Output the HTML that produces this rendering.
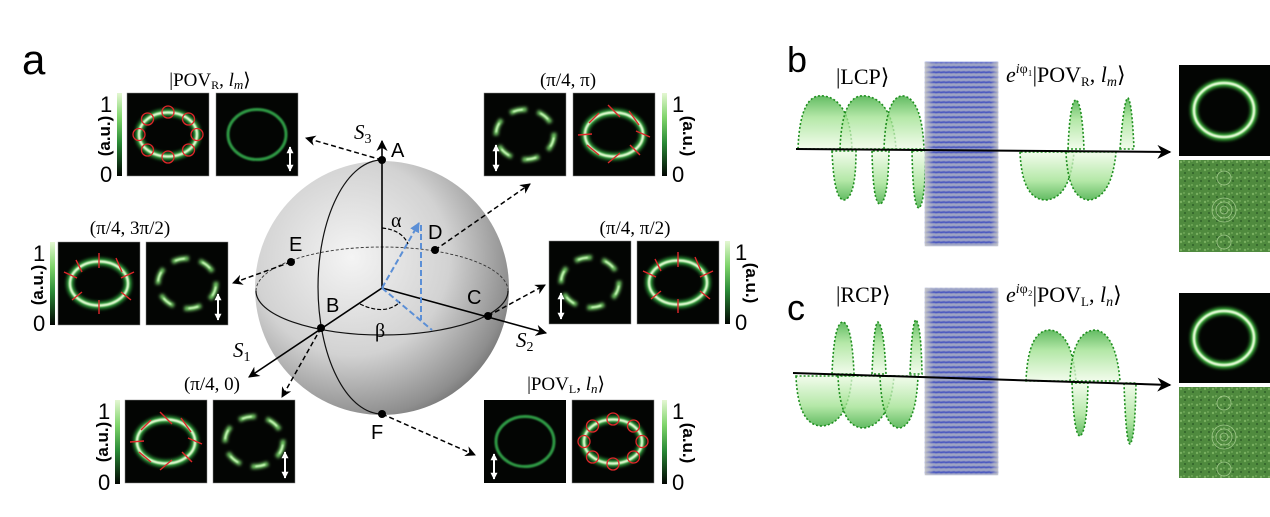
<!DOCTYPE html>
<html><head><meta charset="utf-8">
<style>
html,body{margin:0;padding:0;background:#fff;width:1270px;height:517px;overflow:hidden}
svg{display:block}
.ser{font-family:"Liberation Serif","DejaVu Serif",serif}
.san{font-family:"Liberation Sans","DejaVu Sans",sans-serif}
</style></head><body>
<svg width="1270" height="517" viewBox="0 0 1270 517" xmlns="http://www.w3.org/2000/svg">
<defs>
  <radialGradient id="sph" cx="0.38" cy="0.38" r="0.7">
    <stop offset="0" stop-color="#f4f4f4"/>
    <stop offset="0.55" stop-color="#d2d2d2"/>
    <stop offset="0.9" stop-color="#8e8e8e"/>
    <stop offset="1" stop-color="#6e6e6e"/>
  </radialGradient>
  <linearGradient id="cb" x1="0" y1="0" x2="0" y2="1">
    <stop offset="0" stop-color="#e4f7d2"/>
    <stop offset="0.3" stop-color="#7ed46a"/>
    <stop offset="0.6" stop-color="#2a8a36"/>
    <stop offset="1" stop-color="#020502"/>
  </linearGradient>
  <linearGradient id="lobeU" x1="0" y1="1" x2="0" y2="0">
    <stop offset="0" stop-color="#eefbe6"/>
    <stop offset="0.6" stop-color="#9be08a"/>
    <stop offset="1" stop-color="#2fa52f"/>
  </linearGradient>
  <linearGradient id="lobeD" x1="0" y1="0" x2="0" y2="1">
    <stop offset="0" stop-color="#eefbe6"/>
    <stop offset="0.6" stop-color="#9be08a"/>
    <stop offset="1" stop-color="#2fa52f"/>
  </linearGradient>
  <pattern id="grid" width="5" height="5" patternUnits="userSpaceOnUse">
    <rect width="5" height="5" fill="#9ea4c4"/>
    <line x1="0" y1="2.5" x2="5" y2="2" stroke="#2c3fbf" stroke-width="1.8"/>
  </pattern>
  <linearGradient id="plateEdge" x1="0" y1="0" x2="1" y2="0">
    <stop offset="0" stop-color="#c8c8c8" stop-opacity="0.9"/>
    <stop offset="0.12" stop-color="#c8c8c8" stop-opacity="0"/>
    <stop offset="0.9" stop-color="#c8c8c8" stop-opacity="0"/>
    <stop offset="1" stop-color="#c8c8c8" stop-opacity="0.8"/>
  </linearGradient>
  <pattern id="noise" width="8" height="8" patternUnits="userSpaceOnUse">
    <rect width="8" height="8" fill="#4f8a3e"/>
    <circle cx="2" cy="2" r="1.2" fill="#79b060"/>
    <circle cx="6" cy="5" r="1" fill="#2f5f28"/>
    <circle cx="5" cy="1" r="0.7" fill="#8cc070"/>
  </pattern>
  <filter id="bl" x="-20%" y="-20%" width="140%" height="140%"><feGaussianBlur stdDeviation="1.6"/></filter>
  <filter id="bl2" x="-20%" y="-20%" width="140%" height="140%"><feGaussianBlur stdDeviation="0.8"/></filter>
  <filter id="bl3"><feGaussianBlur stdDeviation="0.5"/></filter>
  <marker id="ah" viewBox="0 0 10 10" refX="9" refY="5" markerWidth="7" markerHeight="7" orient="auto">
    <path d="M0,0 L10,5 L0,10 L3,5 Z" fill="#000"/>
  </marker>
  <marker id="ahw" viewBox="0 0 10 10" refX="9" refY="5" markerWidth="3.5" markerHeight="3.5" orient="auto-start-reverse">
    <path d="M0,0 L10,5 L0,10 Z" fill="#fff"/>
  </marker>
  <marker id="ahb" viewBox="0 0 10 10" refX="9" refY="5" markerWidth="5" markerHeight="5" orient="auto">
    <path d="M0,0 L10,5 L0,10 Z" fill="#5b8fd6"/>
  </marker>

  <g id="ringBright">
    <rect width="82" height="83" fill="#030503" stroke="#888" stroke-width="0.5"/>
    <ellipse cx="41" cy="41.5" rx="29" ry="22" fill="none" stroke="#2fa03a" stroke-width="7" filter="url(#bl)"/>
    <ellipse cx="41" cy="41.5" rx="29" ry="22" fill="none" stroke="#eaffd8" stroke-width="2.5" filter="url(#bl2)"/>
  </g>
  <g id="ringDim">
    <rect width="82" height="83" fill="#030503" stroke="#888" stroke-width="0.5"/>
    <ellipse cx="41" cy="41.5" rx="29" ry="25" fill="none" stroke="#2e9a44" stroke-width="3" filter="url(#bl2)"/>
    <line x1="74" y1="54" x2="74" y2="78" stroke="#fff" stroke-width="2" marker-start="url(#ahw)" marker-end="url(#ahw)"/>
  </g>
  <g id="ringLobe">
    <rect width="82" height="83" fill="#030503" stroke="#888" stroke-width="0.5"/>
    <ellipse cx="41" cy="41.5" rx="29" ry="25" fill="none" stroke="#7fe070" stroke-width="4.5" stroke-dasharray="17 11" filter="url(#bl)"/>
    <ellipse cx="41" cy="41.5" rx="29" ry="25" fill="none" stroke="#d9ffc8" stroke-width="1.6" stroke-dasharray="10 18" stroke-dashoffset="-3" filter="url(#bl2)"/>
    <line x1="12" y1="52" x2="12" y2="78" stroke="#fff" stroke-width="2" marker-start="url(#ahw)" marker-end="url(#ahw)"/>
  </g>
  <g id="ringLobeR">
    <rect width="82" height="83" fill="#030503" stroke="#888" stroke-width="0.5"/>
    <ellipse cx="41" cy="41.5" rx="29" ry="25" fill="none" stroke="#7fe070" stroke-width="4.5" stroke-dasharray="17 11" filter="url(#bl)"/>
    <ellipse cx="41" cy="41.5" rx="29" ry="25" fill="none" stroke="#d9ffc8" stroke-width="1.6" stroke-dasharray="10 18" stroke-dashoffset="-3" filter="url(#bl2)"/>
    <line x1="72" y1="52" x2="72" y2="78" stroke="#fff" stroke-width="2" marker-start="url(#ahw)" marker-end="url(#ahw)"/>
  </g>
  <g id="redC" fill="none" stroke="#e0262a" stroke-width="1.3">
    <circle cx="41" cy="19" r="6"/><circle cx="61.5" cy="26" r="6"/><circle cx="70" cy="41.5" r="6"/>
    <circle cx="61.5" cy="57" r="6"/><circle cx="41" cy="64" r="6"/><circle cx="20.5" cy="57" r="6"/>
    <circle cx="12" cy="41.5" r="6"/><circle cx="20.5" cy="26" r="6"/>
  </g>
  <g id="redT" stroke="#e0262a" stroke-width="1.4">
    <line x1="35" y1="12" x2="47" y2="24"/><line x1="56" y1="18" x2="66" y2="32"/><line x1="63" y1="38" x2="77" y2="44"/>
    <line x1="57" y1="52" x2="67" y2="62"/><line x1="35" y1="70" x2="47" y2="60"/><line x1="14" y1="52" x2="26" y2="62"/>
    <line x1="5" y1="42" x2="19" y2="41"/><line x1="16" y1="30" x2="26" y2="20"/>
  </g>
  <g id="redT2" stroke="#e0262a" stroke-width="1.4">
    <line x1="41" y1="11" x2="41" y2="26"/><line x1="58" y1="16" x2="64" y2="30"/><line x1="63" y1="36" x2="76" y2="30"/>
    <line x1="63" y1="50" x2="73" y2="58"/><line x1="41" y1="58" x2="41" y2="72"/><line x1="14" y1="58" x2="24" y2="50"/>
    <line x1="6" y1="30" x2="19" y2="36"/><line x1="18" y1="18" x2="24" y2="30"/>
  </g>
</defs>

<rect width="1270" height="517" fill="#fff"/>

<!-- ============ PANEL A ============ -->
<text x="22" y="74" class="san" font-size="42">a</text>

<circle cx="382" cy="288" r="127" fill="url(#sph)"/>
<path d="M256,291 A126,44 0 0 1 508,291" fill="none" stroke="#333" stroke-width="0.9" stroke-dasharray="3 2"/>
<path d="M256,291 A126,44 0 0 0 508,291" fill="none" stroke="#111" stroke-width="1.2"/>
<path d="M382,160 A64,127 0 0 0 382,414" fill="none" stroke="#111" stroke-width="1.2"/>
<line x1="382" y1="288" x2="382" y2="141" stroke="#000" stroke-width="1.6" marker-end="url(#ah)"/>
<line x1="382" y1="288" x2="249" y2="377" stroke="#000" stroke-width="1.6" marker-end="url(#ah)"/>
<line x1="382" y1="288" x2="546" y2="333" stroke="#000" stroke-width="1.6" marker-end="url(#ah)"/>
<line x1="382" y1="288" x2="419" y2="223" stroke="#5b8fd6" stroke-width="2" stroke-dasharray="6 3" marker-end="url(#ahb)"/>
<line x1="421" y1="225" x2="421" y2="320" stroke="#5b8fd6" stroke-width="2" stroke-dasharray="6 3"/>
<line x1="382" y1="288" x2="432" y2="330" stroke="#5b8fd6" stroke-width="2" stroke-dasharray="6 3"/>
<path d="M382,228 Q402,230 408,244" fill="none" stroke="#000" stroke-width="1.2" stroke-dasharray="4 2"/>
<path d="M360,304 Q385,316 400,302" fill="none" stroke="#000" stroke-width="1.2" stroke-dasharray="4 2"/>
<text x="391" y="227" class="ser" font-size="20">α</text>
<text x="375" y="337" class="ser" font-size="20">β</text>
<g fill="#000">
<circle cx="382" cy="160" r="4"/><circle cx="382" cy="414" r="4"/><circle cx="321" cy="328" r="4"/>
<circle cx="488" cy="316" r="4"/><circle cx="435" cy="250" r="4"/><circle cx="291" cy="262" r="4"/>
</g>
<g class="san" font-size="20">
<text x="391" y="157">A</text><text x="371" y="439">F</text><text x="326" y="312">B</text>
<text x="467" y="304">C</text><text x="428" y="239">D</text><text x="289" y="251">E</text>
</g>
<text x="354" y="139" class="ser" font-style="italic" font-size="21">S<tspan font-size="14" dy="4" font-style="normal">3</tspan></text>
<text x="233" y="357" class="ser" font-style="italic" font-size="21">S<tspan font-size="14" dy="4" font-style="normal">1</tspan></text>
<text x="516" y="347" class="ser" font-style="italic" font-size="21">S<tspan font-size="14" dy="4" font-style="normal">2</tspan></text>

<g stroke="#000" stroke-width="1.5" stroke-dasharray="5 3" fill="none">
<line x1="382" y1="160" x2="306" y2="138" marker-end="url(#ah)"/>
<line x1="435" y1="250" x2="530" y2="184" marker-end="url(#ah)"/>
<line x1="291" y1="262" x2="233" y2="283" marker-end="url(#ah)"/>
<line x1="488" y1="316" x2="545" y2="285" marker-end="url(#ah)"/>
<line x1="321" y1="328" x2="282" y2="397" marker-end="url(#ah)"/>
<line x1="382" y1="414" x2="475" y2="455" marker-end="url(#ah)"/>
</g>

<text x="210" y="86" class="ser" font-size="19" text-anchor="middle">|POV<tspan font-size="12" dy="3">R</tspan><tspan dy="-3">, </tspan><tspan font-style="italic">l</tspan><tspan font-style="italic" font-size="13" dy="3">m</tspan><tspan dy="-3">⟩</tspan></text>
<rect x="117" y="93" width="5" height="83" fill="url(#cb)"/>
<text x="100" y="112" class="san" font-size="22">1</text>
<text x="100" y="182" class="san" font-size="22">0</text>
<text transform="translate(110,136) rotate(-90)" class="san" font-size="17" font-weight="bold" text-anchor="middle">(a.u.)</text>
<use href="#ringBright" x="127" y="93"/><use href="#redC" x="127" y="93"/>
<use href="#ringDim" x="216" y="93"/>

<text x="130" y="234" class="ser" font-size="19" text-anchor="middle">(π/4, 3π/2)</text>
<rect x="50" y="242" width="5" height="83" fill="url(#cb)"/>
<text x="33" y="261" class="san" font-size="22">1</text>
<text x="33" y="331" class="san" font-size="22">0</text>
<text transform="translate(43,285) rotate(-90)" class="san" font-size="17" font-weight="bold" text-anchor="middle">(a.u.)</text>
<use href="#ringBright" x="58" y="242"/><use href="#redT2" x="58" y="242"/>
<use href="#ringLobeR" x="146" y="242"/>

<text x="212" y="390" class="ser" font-size="19" text-anchor="middle">(π/4, 0)</text>
<rect x="115" y="400" width="5" height="84" fill="url(#cb)"/>
<text x="98" y="419" class="san" font-size="22">1</text>
<text x="98" y="490" class="san" font-size="22">0</text>
<text transform="translate(108,442) rotate(-90)" class="san" font-size="17" font-weight="bold" text-anchor="middle">(a.u.)</text>
<use href="#ringBright" x="125" y="400"/><use href="#redT" x="125" y="400"/>
<use href="#ringLobeR" x="213" y="400"/>

<text x="568" y="86" class="ser" font-size="19" text-anchor="middle">(π/4, π)</text>
<use href="#ringLobe" x="484" y="93"/>
<use href="#ringBright" x="573" y="93"/><use href="#redT" x="573" y="93"/>
<rect x="662" y="93" width="5" height="83" fill="url(#cb)"/>
<text x="672" y="112" class="san" font-size="22">1</text>
<text x="672" y="182" class="san" font-size="22">0</text>
<text transform="translate(683,136) rotate(90)" class="san" font-size="17" font-weight="bold" text-anchor="middle">(a.u.)</text>

<text x="635" y="234" class="ser" font-size="19" text-anchor="middle">(π/4, π/2)</text>
<use href="#ringLobe" x="549" y="241"/>
<use href="#ringBright" x="637" y="241"/><use href="#redT2" x="637" y="241"/>
<rect x="725" y="241" width="5" height="83" fill="url(#cb)"/>
<text x="735" y="260" class="san" font-size="22">1</text>
<text x="735" y="330" class="san" font-size="22">0</text>
<text transform="translate(746,283) rotate(90)" class="san" font-size="17" font-weight="bold" text-anchor="middle">(a.u.)</text>

<text x="566" y="390" class="ser" font-size="19" text-anchor="middle">|POV<tspan font-size="12" dy="3">L</tspan><tspan dy="-3">, </tspan><tspan font-style="italic">l</tspan><tspan font-style="italic" font-size="13" dy="3">n</tspan><tspan dy="-3">⟩</tspan></text>
<g transform="translate(484,400)"><rect width="82" height="83" fill="#030503"/><ellipse cx="41" cy="41.5" rx="29" ry="25" fill="none" stroke="#2e9a44" stroke-width="3" filter="url(#bl2)"/><line x1="10" y1="54" x2="10" y2="79" stroke="#fff" stroke-width="2" marker-start="url(#ahw)" marker-end="url(#ahw)"/></g>
<use href="#ringBright" x="572" y="400"/><use href="#redC" x="572" y="400"/>
<rect x="662" y="400" width="5" height="84" fill="url(#cb)"/>
<text x="672" y="419" class="san" font-size="22">1</text>
<text x="672" y="490" class="san" font-size="22">0</text>
<text transform="translate(683,443) rotate(90)" class="san" font-size="17" font-weight="bold" text-anchor="middle">(a.u.)</text>

<!-- ============ PANEL B ============ -->
<text x="787" y="72" class="san" font-size="36">b</text>
<text x="836" y="84" class="ser" font-size="22">|LCP⟩</text>
<text x="1006" y="82" class="ser" font-size="22"><tspan font-style="italic">e</tspan><tspan font-size="14" dy="-9"><tspan font-style="italic">i</tspan>φ₁</tspan><tspan dy="9">|POV</tspan><tspan font-size="13" dy="4">R</tspan><tspan dy="-4">, </tspan><tspan font-style="italic">l</tspan><tspan font-style="italic" font-size="14" dy="4">m</tspan><tspan dy="-4">⟩</tspan></text>

<g stroke="#1f8f1f" stroke-width="1.6" stroke-dasharray="2 2" fill-opacity="0.75">
<path d="M798,149 Q800,92 824,96 Q850,100 852,149 Z" fill="url(#lobeU)"/>
<path d="M840,149 Q842,92 866,96 Q893,100 896,149 Z" fill="url(#lobeU)"/>
<path d="M884,149 Q886,94 904,96 Q922,100 924,149 Z" fill="url(#lobeU)"/>
<path d="M832,151 Q834,200 844,200 Q856,198 856,151 Z" fill="url(#lobeD)"/>
<path d="M872,151 Q873,204 880,204 Q888,202 889,151 Z" fill="url(#lobeD)"/>
<path d="M912,151 Q913,208 919,208 Q925,204 926,151 Z" fill="url(#lobeD)"/>
</g>
<rect x="925" y="62" width="73" height="184" fill="url(#grid)" filter="url(#bl3)"/>
<rect x="925" y="62" width="73" height="184" fill="url(#plateEdge)"/>
<g stroke="#1f8f1f" stroke-width="1.6" stroke-dasharray="2 2" fill-opacity="0.75">
<path d="M1020,152 Q1022,200 1046,200 Q1070,198 1074,152 Z" fill="url(#lobeD)"/>
<path d="M1066,152 Q1068,200 1090,200 Q1112,196 1116,152 Z" fill="url(#lobeD)"/>
<path d="M1068,149 Q1070,100 1076,100 Q1082,102 1084,149 Z" fill="url(#lobeU)"/>
<path d="M1120,149 Q1124,98 1128,98 Q1132,102 1134,149 Z" fill="url(#lobeU)"/>
</g>
<line x1="796" y1="149" x2="1170" y2="152" stroke="#000" stroke-width="2" marker-end="url(#ah)"/>
<g transform="translate(1179,65)"><rect width="91" height="91" fill="#030503"/>
<ellipse cx="45" cy="45" rx="30" ry="27" fill="none" stroke="#3bb43b" stroke-width="7" filter="url(#bl)"/>
<ellipse cx="45" cy="45" rx="30" ry="27" fill="none" stroke="#f0ffe0" stroke-width="2.5" filter="url(#bl2)"/></g>
<g transform="translate(1179,160)"><rect width="91" height="92" fill="url(#noise)"/>
<g fill="none" stroke="#bfe0a8" stroke-width="0.8" opacity="0.7"><circle cx="45" cy="50" r="4"/><circle cx="45" cy="50" r="8"/><circle cx="45" cy="50" r="12"/><circle cx="45" cy="18" r="7"/><circle cx="45" cy="82" r="7"/></g></g>

<!-- ============ PANEL C ============ -->
<text x="787" y="320" class="san" font-size="36">c</text>
<text x="836" y="302" class="ser" font-size="22">|RCP⟩</text>
<text x="1006" y="302" class="ser" font-size="22"><tspan font-style="italic">e</tspan><tspan font-size="14" dy="-9"><tspan font-style="italic">i</tspan>φ₂</tspan><tspan dy="9">|POV</tspan><tspan font-size="13" dy="4">L</tspan><tspan dy="-4">, </tspan><tspan font-style="italic">l</tspan><tspan font-style="italic" font-size="14" dy="4">n</tspan><tspan dy="-4">⟩</tspan></text>
<g stroke="#1f8f1f" stroke-width="1.6" stroke-dasharray="2 2" fill-opacity="0.75">
<path d="M796,376 Q798,426 822,426 Q848,424 852,376 Z" fill="url(#lobeD)"/>
<path d="M838,376 Q840,428 864,428 Q890,424 894,376 Z" fill="url(#lobeD)"/>
<path d="M880,376 Q882,428 900,428 Q916,424 918,376 Z" fill="url(#lobeD)"/>
<path d="M832,374 Q834,322 843,322 Q852,324 854,374 Z" fill="url(#lobeU)"/>
<path d="M872,374 Q874,322 878,322 Q884,326 886,374 Z" fill="url(#lobeU)"/>
<path d="M910,374 Q912,320 916,320 Q921,324 922,374 Z" fill="url(#lobeU)"/>
</g>
<rect x="925" y="288" width="73" height="187" fill="url(#grid)" filter="url(#bl3)"/>
<rect x="925" y="288" width="73" height="187" fill="url(#plateEdge)"/>
<g stroke="#1f8f1f" stroke-width="1.6" stroke-dasharray="2 2" fill-opacity="0.75">
<path d="M1026,381 Q1028,330 1050,330 Q1072,332 1076,381 Z" fill="url(#lobeU)"/>
<path d="M1070,381 Q1072,330 1096,330 Q1116,334 1120,381 Z" fill="url(#lobeU)"/>
<path d="M1072,383 Q1074,436 1080,436 Q1087,432 1088,383 Z" fill="url(#lobeD)"/>
<path d="M1124,383 Q1126,444 1130,444 Q1135,440 1136,383 Z" fill="url(#lobeD)"/>
</g>
<line x1="793" y1="373" x2="1170" y2="385" stroke="#000" stroke-width="2" marker-end="url(#ah)"/>
<g transform="translate(1179,293)"><rect width="91" height="90" fill="#030503"/>
<ellipse cx="45" cy="45" rx="30" ry="27" fill="none" stroke="#3bb43b" stroke-width="7" filter="url(#bl)"/>
<ellipse cx="45" cy="45" rx="30" ry="27" fill="none" stroke="#f0ffe0" stroke-width="2.5" filter="url(#bl2)"/></g>
<g transform="translate(1179,387)"><rect width="91" height="91" fill="url(#noise)"/>
<g fill="none" stroke="#bfe0a8" stroke-width="0.8" opacity="0.7"><circle cx="45" cy="50" r="4"/><circle cx="45" cy="50" r="8"/><circle cx="45" cy="50" r="12"/><circle cx="45" cy="16" r="7"/><circle cx="45" cy="82" r="7"/></g></g>
</svg>
</body></html>
